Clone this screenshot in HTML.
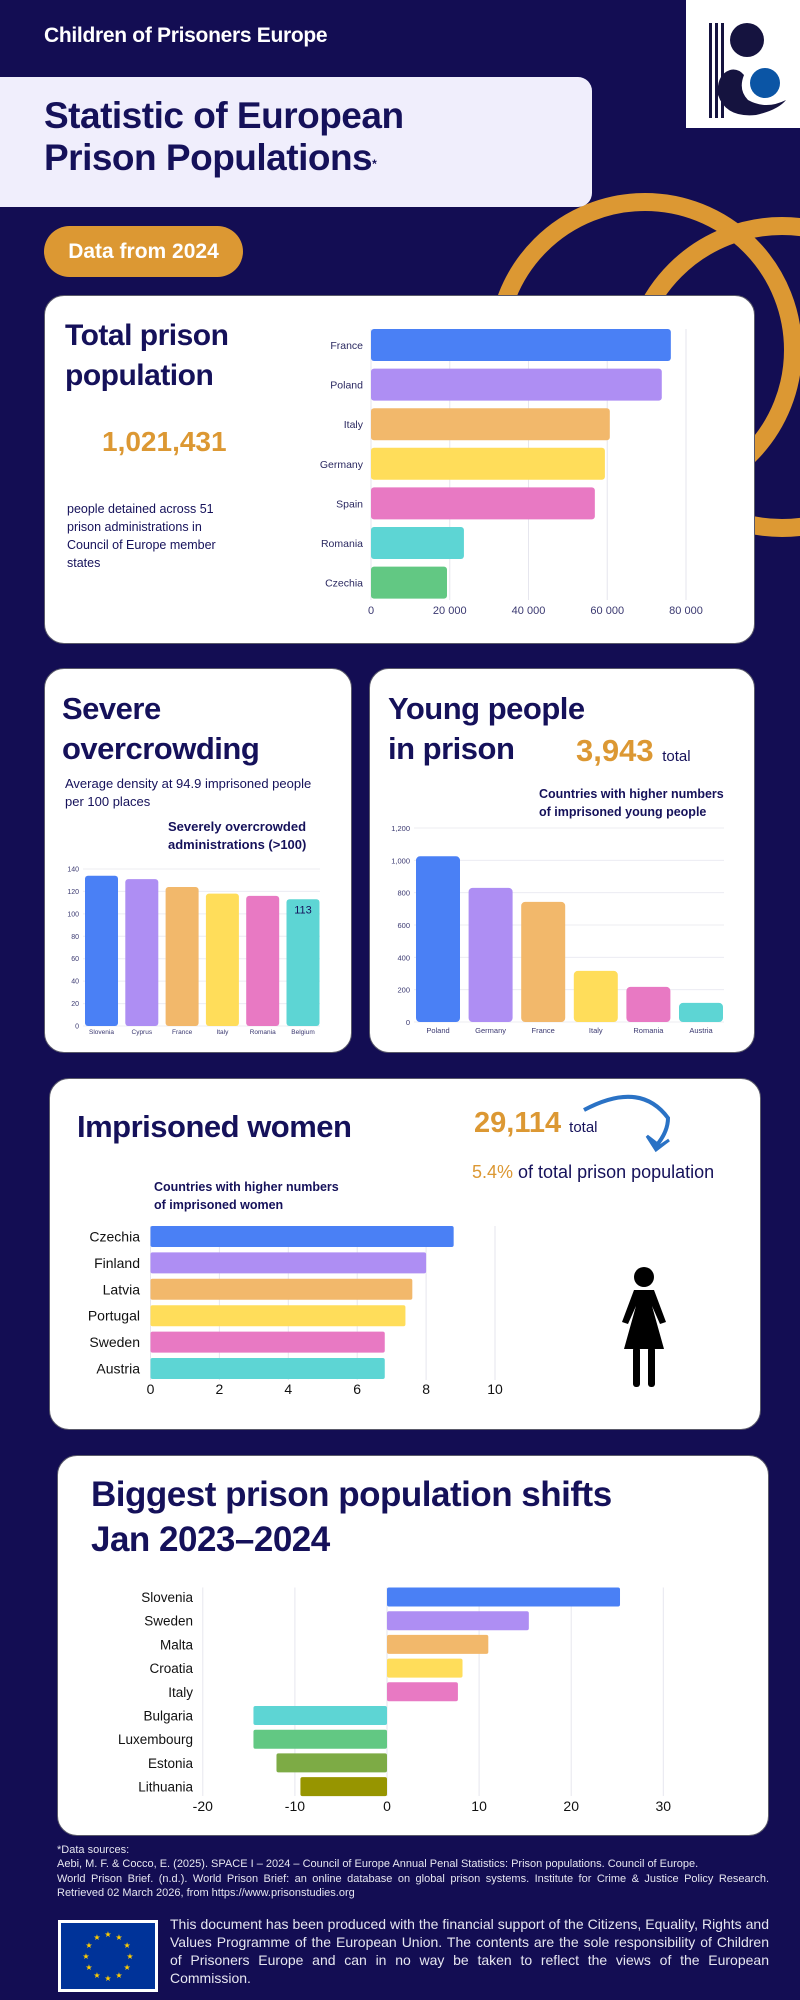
<!DOCTYPE html>
<html><head><meta charset="utf-8">
<style>
*{margin:0;padding:0;box-sizing:border-box}
body{width:800px;height:2000px;background:#130d53;position:relative;overflow:hidden;font-family:"Liberation Sans",sans-serif;color:#15115a}
.abs{position:absolute}
.card{position:absolute;background:#fff;border-radius:20px;border:1px solid #5a5a6a;z-index:2}
.h{font-weight:bold;color:#15115a;letter-spacing:-0.5px}
svg.layer{position:absolute;left:0;top:0;z-index:3}
</style></head>
<body>
<svg class="layer" width="800" height="2000" style="z-index:1">
<circle cx="645" cy="350" r="148" fill="none" stroke="#dc9833" stroke-width="18"/>
<circle cx="782" cy="377" r="151" fill="none" stroke="#dc9833" stroke-width="18"/>
</svg>

<div class="abs" style="left:44px;top:24px;font-size:21px;color:#fff;font-weight:bold;letter-spacing:-0.3px;z-index:2">Children of Prisoners Europe</div>

<div class="abs" style="left:686px;top:0;width:114px;height:128px;background:#fff;z-index:2">
<svg width="114" height="128">
<rect x="23" y="23" width="3" height="95" fill="#15133f"/><rect x="29" y="23" width="3" height="95" fill="#15133f"/><rect x="35" y="23" width="3" height="95" fill="#15133f"/>
<circle cx="61" cy="40" r="17" fill="#15133f"/>
<path d="M44 70 Q30 75 32 95 Q40 118 70 115 Q92 110 100 100 Q80 110 62 100 Q52 90 58 75 Q52 68 44 70Z" fill="#15133f"/>
<circle cx="79" cy="83" r="15" fill="#0b55a5"/>
</svg></div>

<div class="abs" style="left:-20px;top:77px;width:612px;height:130px;background:#f0eefc;border-radius:14px;z-index:2">
<div class="h" style="position:absolute;left:64px;top:18px;font-size:37px;line-height:42px">Statistic of European<br>Prison Populations<sup style="font-size:12px;vertical-align:top;position:relative;top:6px">*</sup></div>
</div>

<div class="abs" style="left:44px;top:226px;width:199px;height:51px;background:#dc9833;border-radius:26px;color:#fff;font-size:21px;font-weight:bold;line-height:51px;text-align:center;z-index:2">Data from 2024</div>

<div class="card" style="left:44px;top:295px;width:711px;height:349px">
<div class="h abs" style="left:20px;top:20px;font-size:30px;line-height:40px">Total prison<br>population</div>
<div class="abs" style="left:57px;top:130px;font-size:28px;font-weight:bold;color:#dc9833">1,021,431</div>
<div class="abs" style="left:22px;top:204px;width:172px;font-size:12.5px;line-height:18px">people detained across 51 prison administrations in Council of Europe member states</div>
</div>

<div class="card" style="left:44px;top:668px;width:308px;height:385px">
<div class="h abs" style="left:17px;top:20px;font-size:31px;line-height:40px">Severe<br>overcrowding</div>
<div class="abs" style="left:20px;top:106px;font-size:13px;line-height:18px;width:268px">Average density at 94.9 imprisoned people per 100 places</div>
<div class="abs" style="left:123px;top:149px;font-size:13px;line-height:18px;font-weight:bold">Severely overcrowded<br>administrations (&gt;100)</div>
</div>

<div class="card" style="left:369px;top:668px;width:386px;height:385px">
<div class="h abs" style="left:18px;top:20px;font-size:31px;line-height:40px">Young people<br>in prison</div>
<div class="abs" style="left:206px;top:64px;font-size:31px;font-weight:bold;color:#dc9833">3,943 <span style="font-size:15px;color:#15115a;font-weight:normal">total</span></div>
<div class="abs" style="left:169px;top:116px;font-size:12.5px;line-height:18px;font-weight:bold">Countries with higher numbers<br>of imprisoned young people</div>
</div>

<div class="card" style="left:49px;top:1078px;width:712px;height:352px">
<div class="h abs" style="left:27px;top:30px;font-size:31px">Imprisoned women</div>
<div class="abs" style="left:424px;top:28px;font-size:29px;font-weight:bold;color:#dc9833">29,114 <span style="font-size:15px;color:#15115a;font-weight:normal">total</span></div>
<div class="abs" style="left:422px;top:83px;font-size:18px;color:#15115a"><span style="color:#dc9833">5.4%</span> of total prison population</div>
<div class="abs" style="left:104px;top:99px;font-size:12.5px;line-height:18px;font-weight:bold">Countries with higher numbers<br>of imprisoned women</div>
</div>

<div class="card" style="left:57px;top:1455px;width:712px;height:381px">
<div class="h abs" style="left:33px;top:16px;font-size:35px;line-height:45px">Biggest prison population shifts<br>Jan 2023–2024</div>
</div>

<div class="abs" style="left:57px;top:1843px;width:712px;font-size:11px;line-height:14.3px;color:#e6e6f0;text-align:justify;z-index:2">*Data sources:<br>Aebi, M. F. &amp; Cocco, E. (2025). SPACE I – 2024 – Council of Europe Annual Penal Statistics: Prison populations. Council of Europe.<br>World Prison Brief. (n.d.). World Prison Brief: an online database on global prison systems. Institute for Crime &amp; Justice Policy Research. Retrieved 02 March 2026, from https://www.prisonstudies.org</div>

<div class="abs" style="left:58px;top:1920px;width:100px;height:72px;background:#fff;padding:3px;z-index:2">
<svg width="94" height="66" style="display:block;background:#003399" id="euflag"></svg></div>
<div class="abs" style="left:170px;top:1915px;width:599px;font-size:14px;line-height:18px;color:#e6e6f0;text-align:justify;z-index:2">This document has been produced with the financial support of the Citizens, Equality, Rights and Values Programme of the European Union. The contents are the sole responsibility of Children of Prisoners Europe and can in no way be taken to reflect the views of the European Commission.</div>

<svg class="layer" id="charts" width="800" height="2000">
<path d="M584 1110 Q640 1080 668 1118 Q668 1132 656 1146" fill="none" stroke="#2a72c5" stroke-width="4"/>
<path d="M647 1136 L656 1150 L669 1140 L660 1146Z" fill="#2a72c5" stroke="#2a72c5" stroke-width="3"/>
<g fill="#000">
<circle cx="644" cy="1277" r="10"/>
<path d="M634 1290 L654 1290 L666 1322 L660 1324 L652 1306 L664 1349 L624 1349 L636 1306 L628 1324 L622 1322Z"/>
<rect x="633" y="1347" width="7" height="40" rx="3"/><rect x="648" y="1347" width="7" height="40" rx="3"/>
</g>
</svg>

<script>
const totalCountries=["France","Poland","Italy","Germany","Spain","Romania","Czechia"];
const totalValues=[76150,73850,60650,59400,56850,23600,19300];
const totalTicks=[0,20000,40000,60000,80000];
const totalTickLabels=["0","20 000","40 000","60 000","80 000"];

const crowdCountries=["Slovenia","Cyprus","France","Italy","Romania","Belgium"];
const crowdValues=[134,131,124,118,116,113];
const crowdTicks=[0,20,40,60,80,100,120,140];

const youngCountries=["Poland","Germany","France","Italy","Romania","Austria"];
const youngValues=[1025,830,743,316,217,118];
const youngTicks=[0,200,400,600,800,1000,1200];
const youngTickLabels=["0","200","400","600","800","1,000","1,200"];

const womenCountries=["Czechia","Finland","Latvia","Portugal","Sweden","Austria"];
const womenValues=[8.8,8.0,7.6,7.4,6.8,6.8];
const womenTicks=[0,2,4,6,8,10];

const shiftCountries=["Slovenia","Sweden","Malta","Croatia","Italy","Bulgaria","Luxembourg","Estonia","Lithuania"];
const shiftValues=[25.3,15.4,11.0,8.2,7.7,-14.5,-14.5,-12.0,-9.4];
const shiftTicks=[-20,-10,0,10,20,30];

const palette=["#4a80f5","#ae8ef3","#f2b86b","#ffdd5a","#e879c3","#5dd5d4","#62c883","#7dab45","#979500"];
const NS="http://www.w3.org/2000/svg";
const svg=document.getElementById("charts");
function mk(tag,attrs,parent){const e=document.createElementNS(NS,tag);for(const k in attrs)e.setAttribute(k,attrs[k]);(parent||svg).appendChild(e);return e;}
function txt(s,attrs){const t=mk("text",attrs);t.textContent=s;return t;}

(function(){
 const x0=371,pxPer=315/80000,yTop=329,step=39.6,bh=32;
 const sx=v=>x0+v*pxPer;
 totalTicks.forEach((t,i)=>{
  const l=mk("line",{x1:sx(t),x2:sx(t),y1:yTop,y2:600,stroke:"#e6e6ee","stroke-width":1});
  
  
  const tl=txt(totalTickLabels[i],{x:sx(t),y:614,"font-size":11,"text-anchor":"middle",fill:"#3a3870"});
  
  
 });
 totalCountries.forEach((c,i)=>{
  const y=yTop+i*step;
  const r=mk("rect",{x:x0,y:y,width:sx(totalValues[i])-x0,height:bh,rx:3,fill:palette[i]});
  
  
  const t=txt(c,{x:363,y:y+bh/2+4,"font-size":10.5,"text-anchor":"end",fill:"#2a2860"});
  
  
 });
})();

(function(){
 const y0=1026,pxPer=157/140,bx=85,step=40.3,bw=33;
 const sy=v=>y0-v*pxPer;
 crowdTicks.forEach(t=>{
  const l=mk("line",{x1:83,x2:320,y1:sy(t),y2:sy(t),stroke:"#ececf2","stroke-width":1});
  
  
  const tl=txt(String(t),{x:79,y:sy(t)+2.5,"font-size":7,"text-anchor":"end",fill:"#3a3870"});
  
  
 });
 crowdCountries.forEach((c,i)=>{
  const x=bx+i*step;
  const r=mk("rect",{x:x,y:sy(crowdValues[i]),width:bw,height:y0-sy(crowdValues[i]),rx:3,fill:palette[i]});
  
  
  const t=txt(c,{x:x+bw/2,y:1034,"font-size":6.5,"text-anchor":"middle",fill:"#3a3870"});
  
  
 });
 const last=crowdValues.length-1;
 const v=txt(String(crowdValues[last]),{x:bx+last*step+bw/2,y:sy(crowdValues[last])+14,"font-size":11,"text-anchor":"middle",fill:"#15115a"});
 
 
})();

(function(){
 const y0=1022,pxPer=194/1200,bx=416,step=52.6,bw=44;
 const sy=v=>y0-v*pxPer;
 youngTicks.forEach((t,i)=>{
  const l=mk("line",{x1:414,x2:724,y1:sy(t),y2:sy(t),stroke:"#ececf2","stroke-width":1});
  
  
  const tl=txt(youngTickLabels[i],{x:410,y:sy(t)+3,"font-size":7.5,"text-anchor":"end",fill:"#3a3870"});
  
  
 });
 youngCountries.forEach((c,i)=>{
  const x=bx+i*step;
  const r=mk("rect",{x:x,y:sy(youngValues[i]),width:bw,height:y0-sy(youngValues[i]),rx:4,fill:palette[i]});
  
  
  const t=txt(c,{x:x+bw/2,y:1033,"font-size":7.5,"text-anchor":"middle",fill:"#3a3870"});
  
  
 });
})();

(function(){
 const x0=150.5,pxPer=344.5/10,yTop=1226,step=26.4,bh=21;
 const sx=v=>x0+v*pxPer;
 womenTicks.forEach(t=>{
  const l=mk("line",{x1:sx(t),x2:sx(t),y1:yTop,y2:1380,stroke:"#e6e6ee","stroke-width":1});
  
  
  const tl=txt(String(t),{x:sx(t),y:1394,"font-size":14,"text-anchor":"middle",fill:"#111"});
  
  
 });
 womenCountries.forEach((c,i)=>{
  const y=yTop+i*step;
  const r=mk("rect",{x:x0,y:y,width:sx(womenValues[i])-x0,height:bh,rx:2,fill:palette[i]});
  
  
  const t=txt(c,{x:140,y:y+bh/2+5,"font-size":14,"text-anchor":"end",fill:"#111"});
  
  
 });
})();

(function(){
 const xz=387,pxPer=9.21,yTop=1587.5,step=23.7,bh=19;
 const sx=v=>xz+v*pxPer;
 shiftTicks.forEach(t=>{
  const l=mk("line",{x1:sx(t),x2:sx(t),y1:yTop,y2:1796,stroke:"#e6e6ee","stroke-width":1});
  
  
  const tl=txt(String(t),{x:sx(t),y:1811,"font-size":14,"text-anchor":"middle",fill:"#111"});
  
  
 });
 shiftCountries.forEach((c,i)=>{
  const y=yTop+i*step,v=shiftValues[i];
  const r=mk("rect",{x:Math.min(sx(0),sx(v)),y:y,width:Math.abs(sx(v)-sx(0)),height:bh,rx:2,fill:palette[i]});
  
  
  const t=txt(c,{x:193,y:y+bh/2+5,"font-size":13.5,"text-anchor":"end",fill:"#111"});
  
  
 });
})();

(function(){
 const f=document.getElementById("euflag");
 for(let k=0;k<12;k++){
  const a=k*Math.PI/6;
  const s=document.createElementNS(NS,"text");
  s.setAttribute("x",47+22*Math.sin(a));s.setAttribute("y",33-22*Math.cos(a)+3);
  s.setAttribute("font-size",8);s.setAttribute("fill","#ffcc00");s.setAttribute("text-anchor","middle");
  s.textContent="★";
  
  
  f.appendChild(s);
 }
})();
</script>
</body></html>
